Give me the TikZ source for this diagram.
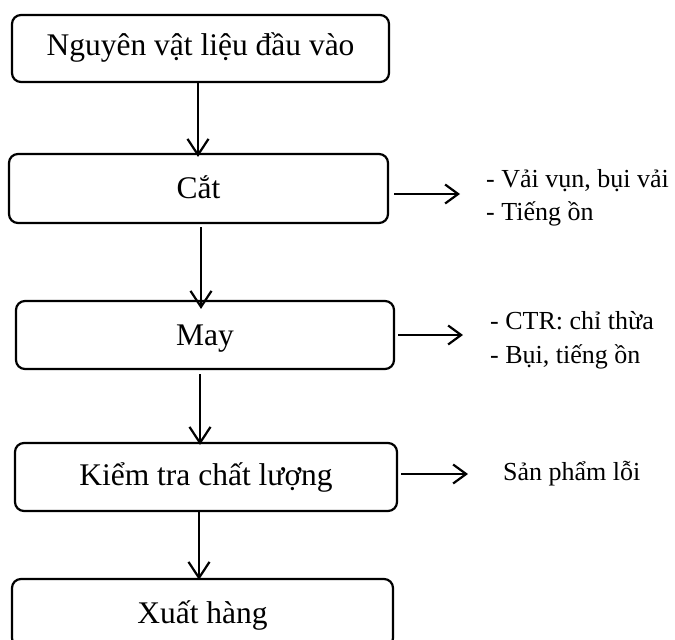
\documentclass[tikz,border=0pt]{standalone}
\usepackage{fontspec}
\setmainfont{Liberation Serif}
\usetikzlibrary{arrows.meta}

\tikzset{
  stepbox/.style={draw, line width=2.2pt, rounded corners=9pt,
    minimum width=378pt, minimum height=68pt, inner sep=0pt,
    text height=20pt, text depth=0pt,
    font=\fontsize{31.5}{37}\selectfont},
  sidetext/.style={anchor=base west, inner sep=0pt,
    font=\fontsize{26}{31}\selectfont},
  flowdown/.style={line width=2.2pt, -{Straight Barb[length=16pt,width=21pt]}},
  flowright/.style={line width=2.2pt, -{Straight Barb[length=13pt,width=19pt]}},
}

\begin{document}
\begin{tikzpicture}[x=1pt, y=-1pt]
  \useasboundingbox (0,0) rectangle (675,640);
  \clip (0,0) rectangle (675,640);

  % process steps
  \node[stepbox, minimum width=377pt, minimum height=67pt, text depth=7pt] (B1) at (200.5,48.5) {Nguyên vật liệu đầu vào};
  \node[stepbox, minimum width=379pt, minimum height=69pt, text depth=1pt] (B2) at (198.5,188.5) {Cắt};
  \node[stepbox] (B3) at (205,335) {May};
  \node[stepbox, minimum width=382pt, text depth=4pt] (B4) at (206,477) {Kiểm tra chất lượng};
  \node[stepbox, minimum width=381pt] (B5) at (202.5,613) {Xuất hàng};

  % main flow
  \draw[flowdown] (B1.south -| 198,0) -- ([yshift=-4pt]B2.north -| 198,0);
  \draw[flowdown, shorten <=3pt] (B2.south -| 201,0) -- ([yshift=-9pt]B3.north -| 201,0);
  \draw[flowdown, shorten <=4pt] (B3.south -| 200,0) -- ([yshift=-3pt]B4.north -| 200,0);
  \draw[flowdown] (B4.south -| 199,0) -- ([yshift=-2pt]B5.north -| 199,0);

  % outputs of each step
  \coordinate (E2) at (460,194);
  \coordinate (E3) at (463,335);
  \coordinate (E4) at (468,474);
  \draw[flowright, shorten <=5pt] (B2.east |- E2) -- (E2);
  \draw[flowright, shorten <=3pt] (B3.east |- E3) -- (E3);
  \draw[flowright, shorten <=3pt] (B4.east |- E4) -- (E4);

  \node[sidetext] (T2a) at (486,187) {- Vải vụn, bụi vải};
  \node[sidetext] (T2b) at (486,220) {- Tiếng ồn};
  \node[sidetext] (T3a) at (490,329) {- CTR: chỉ thừa};
  \node[sidetext] (T3b) at (490,363) {- Bụi, tiếng ồn};
  \node[sidetext] (T4) at (503,480) {Sản phẩm lỗi};
\end{tikzpicture}
\end{document}
